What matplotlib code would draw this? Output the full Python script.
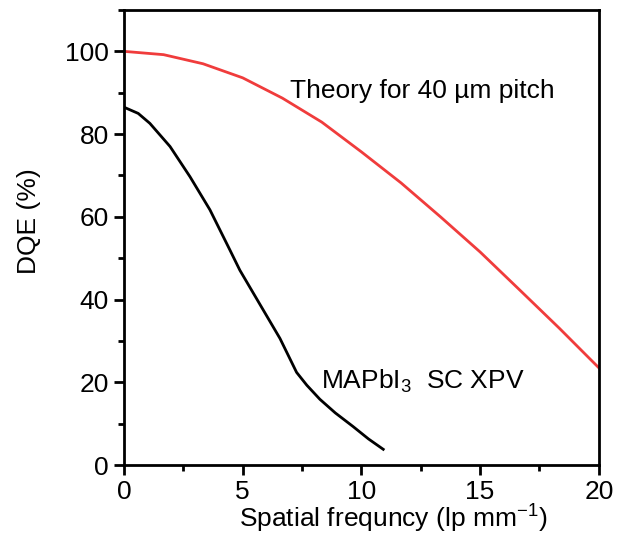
import matplotlib
matplotlib.use("Agg")
import matplotlib.pyplot as plt
from matplotlib.ticker import MultipleLocator

plt.rcParams["font.family"] = ["Liberation Sans", "DejaVu Sans"]
plt.rcParams["mathtext.default"] = "regular"

# theory curve for 40 um pitch
theory_x = [0, 1.67, 3.33, 5.0, 6.67, 8.33, 10.0, 11.67, 13.33, 15.0, 16.67, 18.33, 20.0]
theory_dqe = [100.0, 99.2, 97.0, 93.6, 88.7, 82.9, 75.7, 68.2, 60.0, 51.5, 42.3, 33.1, 23.5]

# measured MAPbI3 single crystal detector
meas_x = [0, 0.6, 1.09, 1.94, 2.78, 3.62, 4.46, 4.88, 5.73, 6.57, 7.27, 7.7, 8.25, 8.9, 9.65, 10.3, 10.92]
meas_dqe = [86.5, 85.0, 82.6, 77.0, 69.7, 61.7, 52.0, 47.1, 38.8, 30.6, 22.4, 19.3, 15.9, 12.6, 9.3, 6.3, 3.8]

fig = plt.figure(figsize=(6.18, 5.43), dpi=100)
ax = fig.add_axes([0.2006, 0.1436, 0.7684, 0.838])

ax.plot(theory_x, theory_dqe, color="#f03c3c", lw=2)
ax.plot(meas_x, meas_dqe, color="black", lw=2)

ax.set_xlim(0, 20)
ax.set_ylim(0, 110)
ax.xaxis.set_major_locator(MultipleLocator(5))
ax.xaxis.set_minor_locator(MultipleLocator(2.5))
ax.yaxis.set_major_locator(MultipleLocator(20))
ax.yaxis.set_minor_locator(MultipleLocator(10))

for s in ax.spines.values():
    s.set_linewidth(2)
ax.tick_params(which="both", direction="out", width=2, labelsize=19)
ax.tick_params(which="major", length=7, pad=4)
ax.tick_params(which="minor", length=4)

ax.set_xlabel("Spatial frequncy (lp mm$^{-1}$)", fontsize=19, labelpad=-1)
ax.set_ylabel("DQE (%)", fontsize=19, labelpad=17)
ax.xaxis.label.set_x(0.566)
ax.yaxis.label.set_y(0.536)

ax.text(7.0, 90.5, "Theory for 40 µm pitch", fontsize=19, va="center")
ax.text(8.3, 20.3, "MAPbI$_3$  SC XPV", fontsize=19, va="center")

fig.savefig("out.png", dpi=100)
